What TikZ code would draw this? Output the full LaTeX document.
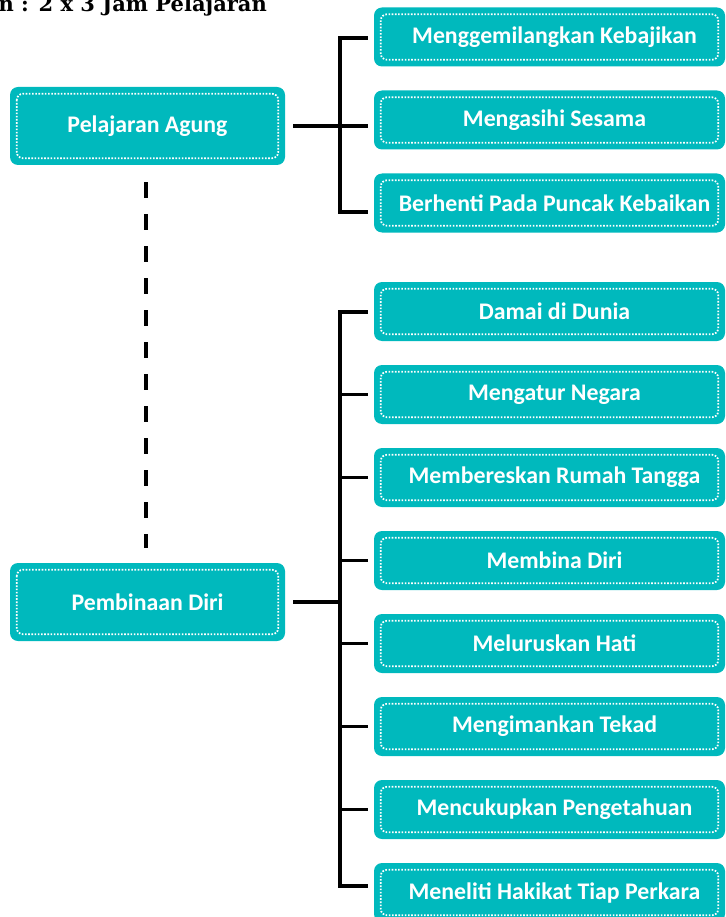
\documentclass[tikz,border=0pt]{standalone}
\usepackage{fontspec}
\setmainfont{Carlito}
\newfontfamily\titlefont{DejaVu Serif}
\usetikzlibrary{calc}
\definecolor{tealbox}{RGB}{0,185,189}
\tikzset{
  box/.style={fill=tealbox, rounded corners=8pt, text=white, font=\bfseries\fontsize{23.8}{28}\selectfont, minimum height=59pt, inner sep=0pt},
  leftbox/.style={box, minimum width=275pt, minimum height=78pt},
  rightbox/.style={box, minimum width=351pt},
  dotframe/.style={draw=white, line width=1.7pt, dash pattern=on 1.6pt off 1.6pt, rounded corners=6pt},
  conn/.style={line width=3.6pt, line join=miter},
  vdash/.style={line width=4pt, dash pattern=on 16pt off 16pt}
}
\begin{document}
\begin{tikzpicture}[x=1pt,y=-1pt]
\useasboundingbox (0,0) rectangle (725,917);
\clip (0,0) rectangle (725,917);

\node[anchor=base east, inner sep=0pt, font=\titlefont\bfseries\fontsize{21}{25}\selectfont] (title) at (267,12) {Waktu Pembelajaran : 2 x 3 Jam Pelajaran};

\node[leftbox] (pa) at (147.5,126) {Pelajaran Agung};
\node[leftbox] (pd) at (147.5,602) {Pembinaan Diri};

\node[rightbox] (r1) at (549.5,37) {\hspace*{10pt}Menggemilangkan Kebajikan};
\node[rightbox] (r2) at (549.5,120) {\hspace*{10pt}Mengasihi Sesama};
\node[rightbox] (r3) at (549.5,203) {\hspace*{10pt}Berhenti Pada Puncak Kebaikan};

\node[rightbox] (s1) at (549.5,311.5) {\hspace*{10pt}Damai di Dunia};
\node[rightbox] (s2) at (549.5,394.5) {\hspace*{10pt}Mengatur Negara};
\node[rightbox] (s3) at (549.5,477.5) {\hspace*{10pt}Membereskan Rumah Tangga};
\node[rightbox] (s4) at (549.5,560.5) {\hspace*{10pt}Membina Diri};
\node[rightbox] (s5) at (549.5,643.5) {\hspace*{10pt}Meluruskan Hati};
\node[rightbox] (s6) at (549.5,726.5) {\hspace*{10pt}Mengimankan Tekad};
\node[rightbox] (s7) at (549.5,809.5) {\hspace*{10pt}Mencukupkan Pengetahuan};
\node[rightbox] (s8) at (549.5,892.5) {\hspace*{10pt}Meneliti Hakikat Tiap Perkara};

\foreach \n in {pa,pd,r1,r2,r3,s1,s2,s3,s4,s5,s6,s7,s8}
  \draw[dotframe] ([shift={(7,7)}]\n.north west) rectangle ([shift={(-7,-7)}]\n.south east);

% top group
\draw[conn] ([xshift=8pt]pa.east) -- ($(pa.east -| r2.west)+(-6,0)$);
\draw[conn] ($(r1.west)+(-6,1)$) -- ++(-28,0) |- ($(r3.west)+(-6,9)$);

% lower group
\draw[conn] ($(s1.west)+(-6,0.5)$) -- ++(-28,0) |- ($(s8.west)+(-6,-6.5)$);
\foreach \i in {2,...,7}
  \draw[conn] ($(s\i.west)+(-6,0)$) -- ++(-29.8,0);
\draw[conn] ([xshift=8pt]pd.east) -- ++(48.8,0);

% dashed link
\draw[vdash] ([shift={(-2,17)}]pa.south) -- ([shift={(-2,-15)}]pd.north);
\end{tikzpicture}
\end{document}
